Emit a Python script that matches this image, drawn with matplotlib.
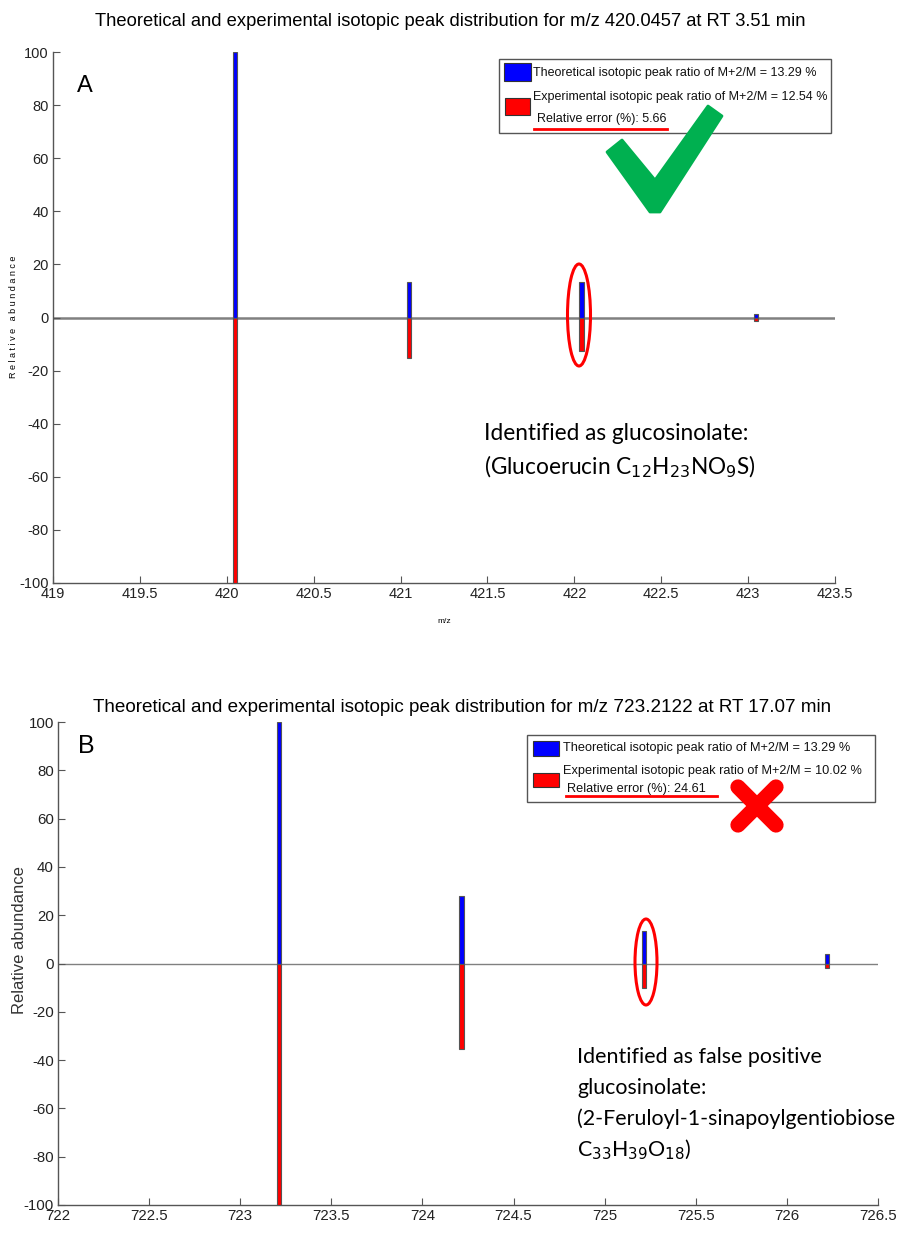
import matplotlib
matplotlib.use("Agg")
import matplotlib.pyplot as plt
from matplotlib.patches import Ellipse, Rectangle, Polygon
from matplotlib.lines import Line2D
import numpy as np

# ---------------- data ----------------
a_mz = [420.0457, 421.049, 422.0415, 423.044]
a_theoretical = [100, 13.2, 13.29, 1.4]
a_experimental = [100, 15.1, 12.54, 1.2]

b_mz = [723.2122, 724.2155, 725.2165, 726.22]
b_theoretical = [100, 27.8, 13.29, 4.0]
b_experimental = [100, 35.5, 10.02, 1.8]

a_xticks = [419, 419.5, 420, 420.5, 421, 421.5, 422, 422.5, 423, 423.5]
b_xticks = [722, 722.5, 723, 723.5, 724, 724.5, 725, 725.5, 726, 726.5]
yticks = [-100, -80, -60, -40, -20, 0, 20, 40, 60, 80, 100]

a_title = "Theoretical and experimental isotopic peak distribution for m/z 420.0457 at RT 3.51 min"
b_title = "Theoretical and experimental isotopic peak distribution for m/z 723.2122 at RT 17.07 min"
a_leg = ["Theoretical isotopic peak ratio of M+2/M = 13.29 %",
         "Experimental isotopic peak ratio of M+2/M = 12.54 %",
         "Relative error (%): 5.66"]
b_leg = ["Theoretical isotopic peak ratio of M+2/M = 13.29 %",
         "Experimental isotopic peak ratio of M+2/M = 10.02 %",
         "Relative error (%): 24.61"]

W, H = 897, 1235
fig = plt.figure(figsize=(W / 100, H / 100), dpi=100)
fig.patch.set_facecolor("white")

NARROW = ["Liberation Sans Narrow", "Liberation Sans", "DejaVu Sans"]
SANS = ["Liberation Sans", "DejaVu Sans"]
CAL = ["Lato", "DejaVu Sans"]


def fx(x):
    return x / W


def fy(y):
    return 1 - y / H


def make_axes(left, right, top, bottom):
    return fig.add_axes([fx(left), fy(bottom), (right - left) / W, (bottom - top) / H])


def style_axes(ax, xticks, xlim, tickfs):
    ax.set_xlim(*xlim)
    ax.set_ylim(-100, 100)
    ax.set_xticks(xticks)
    ax.set_xticklabels(["%g" % t for t in xticks], fontfamily=NARROW, fontsize=tickfs)
    ax.set_yticks(yticks)
    ax.set_yticklabels(["%g" % t for t in yticks], fontfamily=NARROW, fontsize=tickfs)
    for s in ["top", "right"]:
        ax.spines[s].set_visible(False)
    for s in ["left", "bottom"]:
        ax.spines[s].set_color("#555555")
        ax.spines[s].set_linewidth(1.0)
    ax.tick_params(direction="in", length=5, width=0.8, color="#555555", labelcolor="#222222", pad=3)
    ax.set_facecolor("white")


def draw_peaks(ax, mz, theo, expe, width, zlw):
    ax.axhline(0, color="#808080", lw=zlw, zorder=1)
    ax.bar(mz, theo, width=width, color="#0000ff", edgecolor="#555555", linewidth=0.8, zorder=3)
    ax.bar(mz, [-v for v in expe], width=width, color="#ff0000", edgecolor="#555555", linewidth=0.8, zorder=3)


def legend_box(x0, y0, x1, y1, blue_box, red_box, texts, text_pos, underline, fs):
    fig.add_artist(Rectangle((fx(x0), fy(y1)), (x1 - x0) / W, (y1 - y0) / H,
                             transform=fig.transFigure, facecolor="white",
                             edgecolor="#555555", lw=1.0, zorder=5))
    for (bx0, by0, bx1, by1), col in [(blue_box, "#0000ff"), (red_box, "#ff0000")]:
        fig.add_artist(Rectangle((fx(bx0), fy(by1)), (bx1 - bx0) / W, (by1 - by0) / H,
                                 transform=fig.transFigure, facecolor=col,
                                 edgecolor="#333333", lw=0.8, zorder=6))
    for t, (tx, ty) in zip(texts, text_pos):
        fig.text(fx(tx), fy(ty), t, fontsize=fs, family=SANS, ha="left", va="center",
                 color="#111111", zorder=7)
    ux0, ux1, uy = underline
    fig.add_artist(Line2D([fx(ux0), fx(ux1)], [fy(uy), fy(uy)], transform=fig.transFigure,
                          color="#ff0000", lw=2, zorder=8))


# ---------------- Panel A ----------------
axA = make_axes(53, 835, 52, 583)
style_axes(axA, a_xticks, (419, 423.5), 10.5)
draw_peaks(axA, a_mz, a_theoretical, a_experimental, 0.024, 1.8)
fig.text(fx(14), fy(317), "R e l a t i v e   a b u n d a n c e", fontsize=6.5, family=NARROW,
         rotation=90, ha="center", va="center")
axA.set_xlabel("m/z", fontsize=6, family=NARROW, labelpad=12)
fig.text(fx(450), fy(22), a_title, fontsize=13.2, family=SANS, ha="center", va="center")
fig.text(fx(77), fy(86), "A", fontsize=17, family=SANS, ha="left", va="center")

legend_box(499, 59, 831, 133, (504, 63, 531, 81), (505, 98, 530, 115), a_leg,
           [(533, 73), (533, 97), (537, 119)], (534, 667, 129), 9.0)

# green check mark (tapered polygon)
check_pts = [(fx(x), fy(y)) for x, y in
             [(607, 152), (622, 140), (655, 180), (708, 106), (722, 116), (660, 212), (650, 212)]]
fig.add_artist(Polygon(check_pts, closed=True, transform=fig.transFigure,
                       facecolor="#00b050", edgecolor="#00b050", lw=2, joinstyle="round", zorder=9))

fig.add_artist(Ellipse((fx(579), fy(315)), 23 / W, 102 / H, transform=fig.transFigure,
                       fill=False, edgecolor="#ff0000", lw=2.2, zorder=9))

fig.text(fx(484), fy(433), "Identified as glucosinolate:", fontsize=16.3, family=CAL,
         ha="left", va="center")
fig.text(fx(484), fy(467), r"(Glucoerucin C$_{12}$H$_{23}$NO$_{9}$S)", fontsize=16.3, family=CAL,
         ha="left", va="center")

# ---------------- Panel B ----------------
axB = make_axes(58, 878, 722, 1205)
style_axes(axB, b_xticks, (722, 726.5), 10.8)
draw_peaks(axB, b_mz, b_theoretical, b_experimental, 0.026, 1.0)
fig.text(fx(20), fy(940), "Relative abundance", fontsize=12, family=SANS,
         rotation=90, ha="center", va="center", color="#333333")
fig.text(fx(462), fy(707), b_title, fontsize=13.6, family=SANS, ha="center", va="center")
fig.text(fx(78), fy(746), "B", fontsize=18, family=SANS, ha="left", va="center")

legend_box(527, 735, 875, 802, (533, 741, 559, 756), (533, 773, 559, 787), b_leg,
           [(563, 748), (563, 771), (567, 789)], (566, 717, 796), 9.2)

# red cross
cx, cy, r = 757, 806, 19
for dx in (-1, 1):
    fig.add_artist(Line2D([fx(cx - r), fx(cx + r)], [fy(cy - dx * r), fy(cy + dx * r)],
                          transform=fig.transFigure, color="#ff0000", lw=11,
                          solid_capstyle="round", zorder=9))

fig.add_artist(Ellipse((fx(646), fy(962)), 22 / W, 86 / H, transform=fig.transFigure,
                       fill=False, edgecolor="#ff0000", lw=2.2, zorder=9))

for i, line in enumerate(["Identified as false positive", "glucosinolate:",
                          "(2-Feruloyl-1-sinapoylgentiobiose",
                          r"C$_{33}$H$_{39}$O$_{18}$)"]):
    fig.text(fx(577), fy(1057 + i * 31), line, fontsize=15.4, family=CAL,
             ha="left", va="center")

fig.savefig("out.png", dpi=100, facecolor="white")
